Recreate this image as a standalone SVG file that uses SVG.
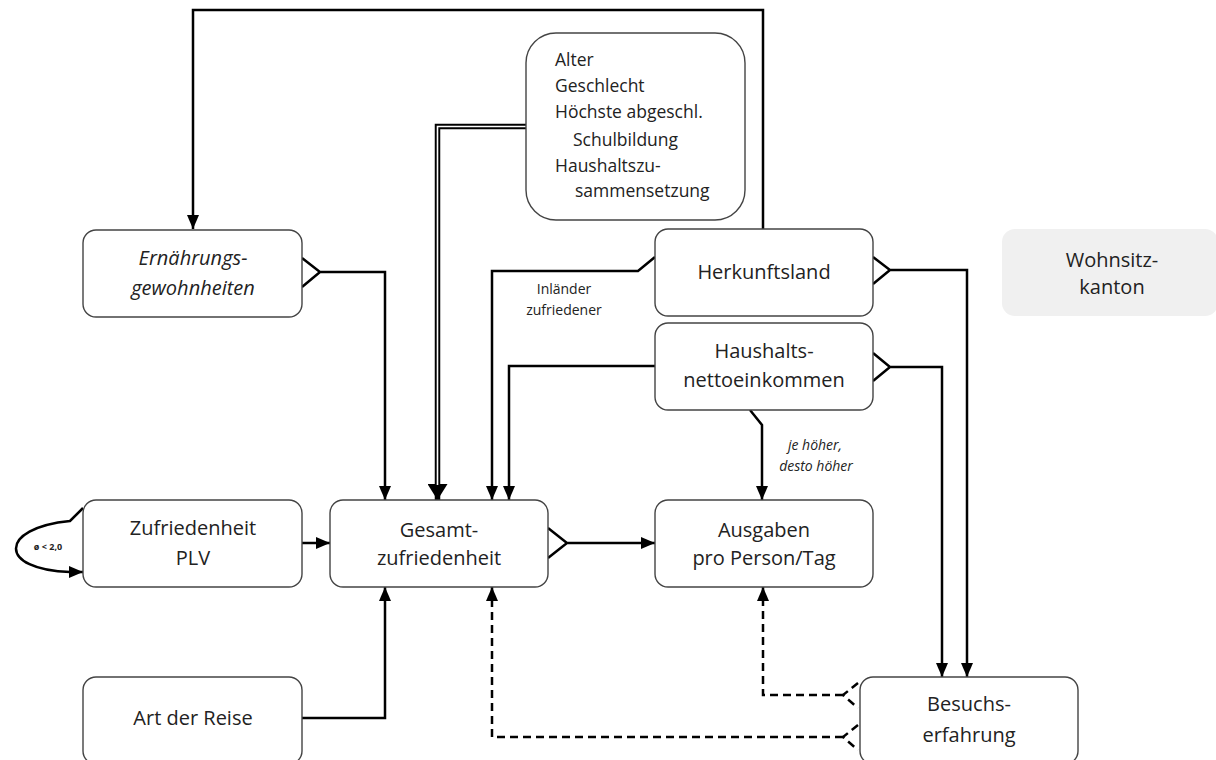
<svg xmlns="http://www.w3.org/2000/svg" width="1216" height="760" viewBox="0 0 1216 760">
<style>
.box{fill:#fff;stroke:#444;stroke-width:1.4}
.t{font-family:"Open Sans","Noto Sans",sans-serif;font-size:20px;fill:#222;text-anchor:middle}
.tl{font-family:"Open Sans","Noto Sans",sans-serif;font-size:17.5px;fill:#222}
.it{font-style:italic}
.s{font-family:"Open Sans","Noto Sans",sans-serif;font-size:14px;fill:#222;text-anchor:middle}
.c{fill:none;stroke:#000;stroke-width:2.5}
.d{fill:none;stroke:#000;stroke-width:2.5;stroke-dasharray:8 5}
</style>
<defs>
<marker id="arr" viewBox="0 0 14 12" refX="14" refY="6" markerWidth="14" markerHeight="12" orient="auto" markerUnits="userSpaceOnUse"><path d="M0,0 L14,6 L0,12 z" fill="#000"/></marker>
<marker id="big" viewBox="0 0 16 20" refX="16" refY="10" markerWidth="16" markerHeight="20" orient="auto" markerUnits="userSpaceOnUse"><path d="M0,0 L16,10 L0,20 z" fill="#000"/></marker>
</defs>

<g id="connectors">
<path class="c" d="M763 229 V10 H193 V229" marker-end="url(#arr)"/>
<path class="c" d="M302 258 L320 272 L302 287 M320 272 H385 V500" marker-end="url(#arr)"/>
<path d="M526 126.5 H437.5 V500" fill="none" stroke="#000" stroke-width="5.5" marker-end="url(#big)"/>
<path d="M526 126.5 H437.5 V485" fill="none" stroke="#fff" stroke-width="1.6"/>
<path class="c" d="M655 257 L638 271 H492 V500" marker-end="url(#arr)"/>
<text class="s" x="564" y="294">Inländer</text>
<text class="s" x="564" y="315">zufriedener</text>
<path class="c" d="M655 366 H509 V500" marker-end="url(#arr)"/>
<path class="c" d="M750 410 L762 425 V500" marker-end="url(#arr)"/>
<text class="s it" x="815" y="450">je höher,</text>
<text class="s it" x="816" y="471">desto höher</text>
<path class="c" d="M873 257 L890 270 L873 284 M890 270 H967 V677" marker-end="url(#arr)"/>
<path class="c" d="M873 353 L890 367 L873 381 M890 367 H942 V677" marker-end="url(#arr)"/>
<path class="c" d="M548 528 L567 543 L548 558 M567 543 H655" marker-end="url(#arr)"/>
<path class="c" d="M302 543 H330" marker-end="url(#arr)"/>
<path class="c" d="M83 508 L70 521 C-2 528 -2 570 70 572 L83 572" marker-end="url(#arr)"/>
<text x="48" y="550" font-family="Open Sans, Noto Sans, sans-serif" font-size="9" font-weight="bold" fill="#222" text-anchor="middle">ø &lt; 2,0</text>
<path class="c" d="M302 718 H385 V587" marker-end="url(#arr)"/>
<path class="d" stroke-width="2" stroke-dasharray="6 4" d="M858 683 L843 695 L858 708"/>
<path class="d" d="M843 695 H763 V587" marker-end="url(#arr)"/>
<path class="d" stroke-width="2" stroke-dasharray="6 4" d="M858 725 L843 737 L858 750"/>
<path class="d" d="M843 737 H492 V587" marker-end="url(#arr)"/>
</g>

<g id="node-demographics">
<rect class="box" x="526" y="33" width="219" height="187" rx="30"/>
<text class="tl" x="555" y="66">Alter</text>
<text class="tl" x="555" y="92">Geschlecht</text>
<text class="tl" x="555" y="118">Höchste abgeschl.</text>
<text class="tl" x="573" y="146">Schulbildung</text>
<text class="tl" x="555" y="172">Haushaltszu-</text>
<text class="tl" x="575" y="197">sammensetzung</text>
</g>

<g id="node-ernaehrung">
<rect class="box" x="83" y="230" width="219" height="87" rx="13"/>
<text class="t it" x="193" y="265">Ernährungs-</text>
<text class="t it" x="193" y="295">gewohnheiten</text>
</g>

<g id="node-herkunftsland">
<rect class="box" x="655" y="229" width="218" height="87" rx="13"/>
<text class="t" x="764" y="279">Herkunftsland</text>
</g>

<g id="node-wohnsitzkanton">
<rect x="1002" y="229" width="216" height="87" rx="13" fill="#f0f0f0"/>
<text class="t" x="1112" y="267">Wohnsitz-</text>
<text class="t" x="1112" y="294">kanton</text>
</g>

<g id="node-haushalt">
<rect class="box" x="655" y="323" width="218" height="87" rx="13"/>
<text class="t" x="764" y="358">Haushalts-</text>
<text class="t" x="764" y="387">nettoeinkommen</text>
</g>

<g id="node-plv">
<rect class="box" x="83" y="500" width="219" height="87" rx="13"/>
<text class="t" x="193" y="535">Zufriedenheit</text>
<text class="t" x="193" y="565">PLV</text>
</g>

<g id="node-gesamt">
<rect class="box" x="330" y="500" width="218" height="87" rx="13"/>
<text class="t" x="439" y="537">Gesamt-</text>
<text class="t" x="439" y="565">zufriedenheit</text>
</g>

<g id="node-ausgaben">
<rect class="box" x="655" y="500" width="218" height="87" rx="13"/>
<text class="t" x="764" y="537">Ausgaben</text>
<text class="t" x="764" y="565">pro Person/Tag</text>
</g>

<g id="node-artderreise">
<rect class="box" x="83" y="677" width="219" height="87" rx="13"/>
<text class="t" x="193" y="725">Art der Reise</text>
</g>

<g id="node-besuchserfahrung">
<rect class="box" x="860" y="677" width="218" height="87" rx="13"/>
<text class="t" x="969" y="711">Besuchs-</text>
<text class="t" x="969" y="742">erfahrung</text>
</g>
</svg>
